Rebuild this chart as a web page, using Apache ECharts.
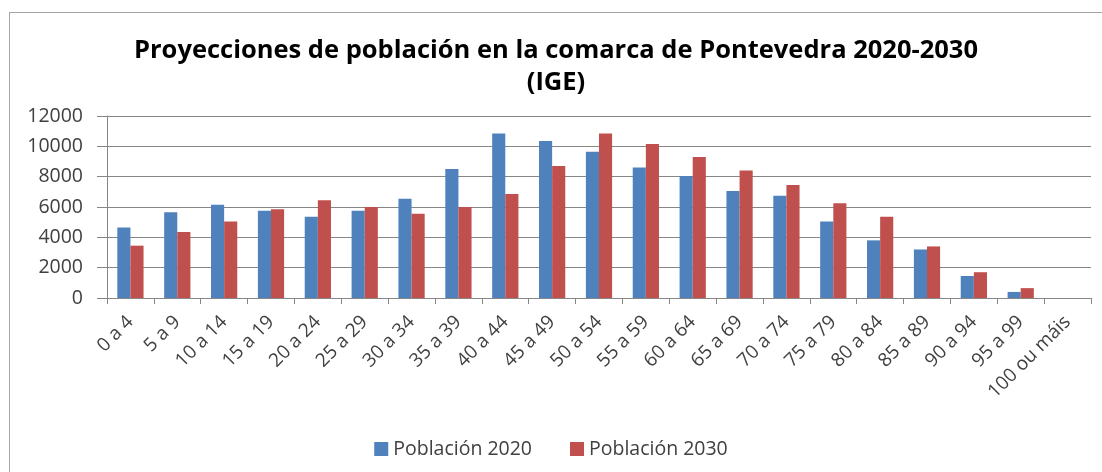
<!DOCTYPE html>
<html>
<head>
<meta charset="utf-8">
<script src="https://cdn.jsdelivr.net/npm/echarts@6/dist/echarts.min.js"></script>
<style>
html, body { margin: 0; padding: 0; background: #fff; }
#frame { position: absolute; left: 9px; top: 12px; width: 1200px; height: 600px; border-left: 1px solid #a6a6a6; border-top: 1px solid #a6a6a6; }
#chart { position: absolute; left: 0; top: 0; width: 1102px; height: 472px; }
</style>
</head>
<body>
<div id="frame"></div>
<div id="chart"></div>
<script>
// grupos de idade
var categories = ['0 a 4', '5 a 9', '10 a 14', '15 a 19', '20 a 24', '25 a 29', '30 a 34', '35 a 39',
    '40 a 44', '45 a 49', '50 a 54', '55 a 59', '60 a 64', '65 a 69', '70 a 74', '75 a 79',
    '80 a 84', '85 a 89', '90 a 94', '95 a 99', '100 ou máis'];
var poblacion2020 = [4650, 5650, 6150, 5750, 5350, 5750, 6550, 8500, 10850, 10350, 9650,
    8600, 8050, 7050, 6750, 5050, 3800, 3200, 1450, 400, 0];
var poblacion2030 = [3450, 4350, 5050, 5850, 6450, 6000, 5550, 6000, 6850, 8700, 10850,
    10150, 9300, 8400, 7450, 6250, 5350, 3400, 1700, 650, 0];
var seriesNames = ['Población 2020', 'Población 2030'];

var myChart = echarts.init(document.getElementById('chart'));
var labelColor = '#404040';
var lineColor = '#868686';
var option = {
    animation: false,
    textStyle: {fontFamily: 'Open Sans'},
    title: {
        text: 'Proyecciones de población en la comarca de Pontevedra 2020-2030\n(IGE)',
        left: 551,
        textAlign: 'center',
        top: 30,
        textStyle: {fontFamily: 'Open Sans', fontWeight: 'bold', fontSize: 25.5, color: '#000', lineHeight: 32}
    },
    legend: {
        data: seriesNames,
        left: 'center',
        top: 434,
        itemWidth: 14,
        itemHeight: 14,
        itemGap: 38,
        icon: 'rect',
        textStyle: {fontSize: 19.5, color: labelColor, fontFamily: 'Open Sans'}
    },
    grid: {left: 107, right: 11, top: 116, height: 182, containLabel: false},
    xAxis: {
        type: 'category',
        data: categories,
        axisLine: {lineStyle: {color: lineColor}},
        axisTick: {show: true, alignWithLabel: false, length: 6, lineStyle: {color: lineColor}},
        axisLabel: {rotate: 45, color: labelColor, fontSize: 19, margin: 21, interval: 0}
    },
    yAxis: {
        type: 'value',
        min: 0,
        max: 12000,
        interval: 2000,
        axisLine: {show: true, lineStyle: {color: lineColor}},
        axisTick: {show: true, length: 10, lineStyle: {color: lineColor}},
        axisLabel: {color: labelColor, fontSize: 19.5, margin: 24, formatter: function (v) { return String(v); }},
        splitLine: {lineStyle: {color: lineColor, width: 1}}
    },
    series: [{
        name: seriesNames[0],
        type: 'bar',
        data: poblacion2020,
        barGap: '0%',
        barCategoryGap: '44%',
        itemStyle: {color: '#4f81bd'}
    }, {
        name: seriesNames[1],
        type: 'bar',
        data: poblacion2030,
        itemStyle: {color: '#c0504d'}
    }]
};
myChart.setOption(option);
</script>
</body>
</html>
